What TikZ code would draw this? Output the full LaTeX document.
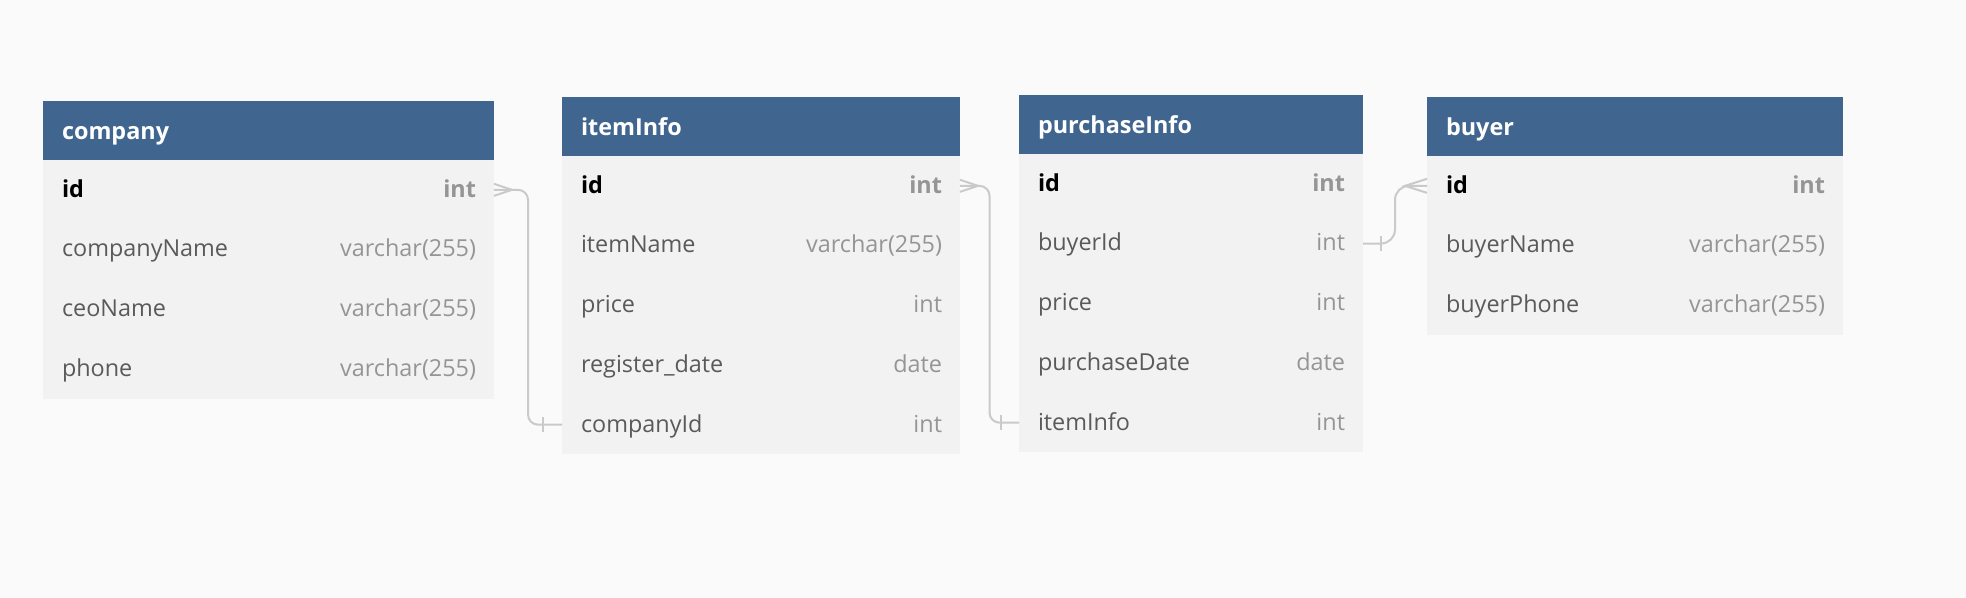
\documentclass[tikz,border=0pt]{standalone}
\usepackage{fontspec}
\setmainfont{Open Sans}
\usetikzlibrary{positioning,calc}
\definecolor{hdblue}{HTML}{40668F}
\definecolor{rowgray}{HTML}{F2F2F2}
\definecolor{pagebg}{HTML}{FAFAFA}
\definecolor{fieldtxt}{HTML}{5A5A5A}
\definecolor{typetxt}{HTML}{959595}
\definecolor{linkgray}{HTML}{CACACA}
\begin{document}
\begin{tikzpicture}[x=0.5pt,y=-0.5pt,
    every node/.style={inner sep=0pt,outer sep=0pt,text height=9.4pt,text depth=2pt,font=\fontsize{11.7}{14}\selectfont},
    tablehead/.style={anchor=north west,fill=hdblue,text=white,font=\fontsize{11.7}{14}\selectfont\bfseries,
      text height=10.6pt,inner xsep=9.5pt,minimum height=29.5pt,text width=#1,align=left},
    fieldrow/.style={fill=rowgray,text=fieldtxt,inner xsep=9.5pt,minimum height=29.85pt,text width=#1,align=left},
    keyrow/.style={fieldrow=#1,text=black,font=\fontsize{11.7}{14}\selectfont\bfseries},
    typelabel/.style={anchor=east,text=typetxt},
    keytype/.style={typelabel,font=\fontsize{11.7}{14}\selectfont\bfseries},
    relline/.style={draw=linkgray,line width=1pt,rounded corners=5pt}]
  \fill[pagebg] (0,0) rectangle (1966,598);
  \useasboundingbox (0,0) rectangle (1966,598);

  \node[tablehead=206.5pt] (company) at (43,101) {company};
  \node[keyrow=206.5pt,below=0pt of company] (company-id) {id};
  \node[fieldrow=206.5pt,below=0pt of company-id] (company-name) {companyName};
  \node[fieldrow=206.5pt,below=0pt of company-name] (company-ceo) {ceoName};
  \node[fieldrow=206.5pt,below=0pt of company-ceo] (company-phone) {phone};
  \node[keytype] (company-id-t) at ([xshift=-9pt]company-id.east) {int};
  \node[typelabel] (company-name-t) at ([xshift=-9pt]company-name.east) {varchar(255)};
  \node[typelabel] (company-ceo-t) at ([xshift=-9pt]company-ceo.east) {varchar(255)};
  \node[typelabel] (company-phone-t) at ([xshift=-9pt]company-phone.east) {varchar(255)};

  \node[tablehead=180pt] (item) at (562,97) {itemInfo};
  \node[keyrow=180pt,below=0pt of item] (item-id) {id};
  \node[fieldrow=180pt,below=0pt of item-id] (item-name) {itemName};
  \node[fieldrow=180pt,below=0pt of item-name] (item-price) {price};
  \node[fieldrow=180pt,below=0pt of item-price] (item-date) {register\_date};
  \node[fieldrow=180pt,below=0pt of item-date] (item-cid) {companyId};
  \node[keytype] (item-id-t) at ([xshift=-9pt]item-id.east) {int};
  \node[typelabel] (item-name-t) at ([xshift=-9pt]item-name.east) {varchar(255)};
  \node[typelabel] (item-price-t) at ([xshift=-9pt]item-price.east) {int};
  \node[typelabel] (item-date-t) at ([xshift=-9pt]item-date.east) {date};
  \node[typelabel] (item-cid-t) at ([xshift=-9pt]item-cid.east) {int};

  \node[tablehead=153pt] (purchase) at (1019,95) {purchaseInfo};
  \node[keyrow=153pt,below=0pt of purchase] (purchase-id) {id};
  \node[fieldrow=153pt,below=0pt of purchase-id] (purchase-bid) {buyerId};
  \node[fieldrow=153pt,below=0pt of purchase-bid] (purchase-price) {price};
  \node[fieldrow=153pt,below=0pt of purchase-price] (purchase-date) {purchaseDate};
  \node[fieldrow=153pt,below=0pt of purchase-date] (purchase-item) {itemInfo};
  \node[keytype] (purchase-id-t) at ([xshift=-9pt]purchase-id.east) {int};
  \node[typelabel] (purchase-bid-t) at ([xshift=-9pt]purchase-bid.east) {int};
  \node[typelabel] (purchase-price-t) at ([xshift=-9pt]purchase-price.east) {int};
  \node[typelabel] (purchase-date-t) at ([xshift=-9pt]purchase-date.east) {date};
  \node[typelabel] (purchase-item-t) at ([xshift=-9pt]purchase-item.east) {int};

  \node[tablehead=189pt] (buyer) at (1427,97) {buyer};
  \node[keyrow=189pt,below=0pt of buyer] (buyer-id) {id};
  \node[fieldrow=189pt,below=0pt of buyer-id] (buyer-name) {buyerName};
  \node[fieldrow=189pt,below=0pt of buyer-name] (buyer-phone) {buyerPhone};
  \node[keytype] (buyer-id-t) at ([xshift=-9pt]buyer-id.east) {int};
  \node[typelabel] (buyer-name-t) at ([xshift=-9pt]buyer-name.east) {varchar(255)};
  \node[typelabel] (buyer-phone-t) at ([xshift=-9pt]buyer-phone.east) {varchar(255)};

  \draw[relline] (company-id.east) -| ($(company-id.east)!.5!(item-cid.west)$) |- (item-cid.west);
  \draw[relline,sharp corners] ([yshift=3pt]company-id.east) -- ([xshift=9pt]company-id.east) -- ([yshift=-3pt]company-id.east);
  \draw[relline,sharp corners] ([xshift=-9.5pt,yshift=3.75pt]item-cid.west) -- ([xshift=-9.5pt,yshift=-3.75pt]item-cid.west);

  \draw[relline] (item-id.east) -| ($(item-id.east)!.5!(purchase-item.west)$) |- (purchase-item.west);
  \draw[relline,sharp corners] ([yshift=3pt]item-id.east) -- ([xshift=9pt]item-id.east) -- ([yshift=-3pt]item-id.east);
  \draw[relline,sharp corners] ([xshift=-9pt,yshift=3.75pt]purchase-item.west) -- ([xshift=-9pt,yshift=-3.75pt]purchase-item.west);

  \draw[relline,rounded corners=7pt] (purchase-bid.east) -| ($(purchase-bid.east)!.5!(buyer-id.west)$) |- (buyer-id.west);
  \draw[relline,sharp corners] ([xshift=9pt,yshift=3.75pt]purchase-bid.east) -- ([xshift=9pt,yshift=-3.75pt]purchase-bid.east);
  \draw[relline,sharp corners] ([yshift=3.5pt]buyer-id.west) -- ([xshift=-11pt]buyer-id.west) -- ([yshift=-3.5pt]buyer-id.west);
\end{tikzpicture}
\end{document}
